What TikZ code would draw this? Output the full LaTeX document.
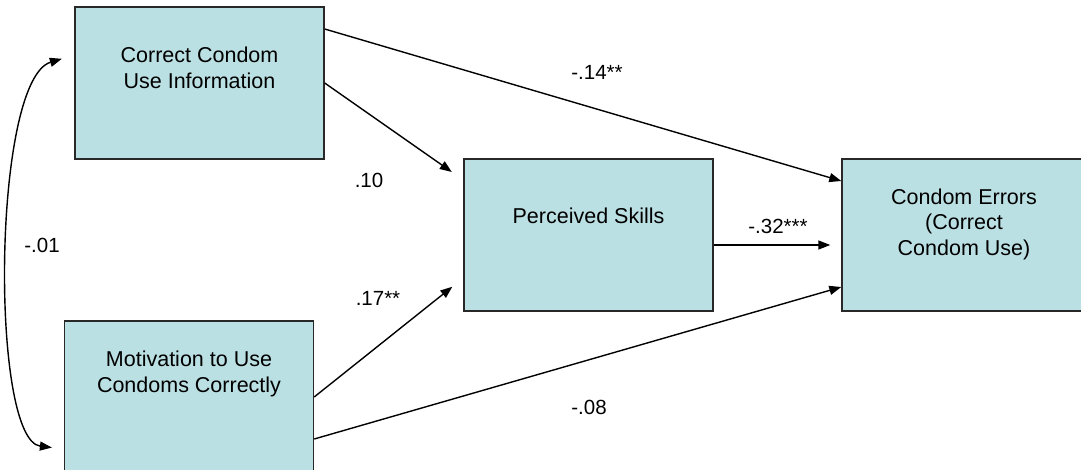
\documentclass[tikz,border=0pt]{standalone}
\usepackage{xcolor}
\usepackage{fontspec}
\setmainfont{Liberation Sans}
\definecolor{boxcyan}{RGB}{187, 224, 227}
\definecolor{boxedge}{RGB}{40, 40, 40}
\usetikzlibrary{arrows.meta, positioning, calc}

\begin{document}
\begin{tikzpicture}[
    x=1pt, y=-1pt,
    construct/.style={rectangle, draw=boxedge, line width=1.4pt, fill=boxcyan, minimum width=249pt, minimum height=152pt, inner sep=0pt},
    boxtext/.style={align=center, font=\fontsize{21.5}{25.5}\selectfont},
    coef/.style={font=\fontsize{20.5}{24}\selectfont, inner sep=0pt},
    path/.style={-{Triangle[length=12pt, width=9pt]}, line width=1.4pt},
    covar/.style={{Triangle[length=12pt, width=9pt]}-{Triangle[length=12pt, width=9pt]}, line width=1.4pt}
]
    \useasboundingbox (0,0) rectangle (1081,469);
    \clip (0,0) rectangle (1081,469);

    % Constructs
    \node[construct] (info) at (199.5,83) {};
    \node[construct] (motiv) at (189,397) {};
    \node[construct] (skills) at (588.5,235) {};
    \node[construct] (errors) at (966.5,235) {};

    \node[boxtext] (infotxt) at (199.5,68) {Correct Condom\\ Use Information};
    \node[boxtext] (motivtxt) at (189,374) {Motivation to Use\\Condoms Correctly};
    \node[boxtext] (skillstxt) at (588.5,216) {Perceived Skills};
    \node[boxtext] (errorstxt) at (964,224) {Condom Errors\\(Correct\\Condom Use)};

    % Paths
    \draw[path] ([yshift=54pt]info.east) -- ([yshift=54pt]errors.west);
    \draw[path, shorten >=14pt] (info.east) -- ([yshift=55pt]skills.west);
    \draw[path, shorten >=14pt] (motiv.east) -- ([yshift=-43pt]skills.west);
    \draw[path] ([yshift=-42pt]motiv.east) -- ([yshift=-52pt]errors.west);
    \draw[path, shorten >=11pt] ([yshift=-10pt]skills.east) -- ([yshift=-10pt]errors.west);

    % Covariance
    \draw[covar, shorten <=13pt, shorten >=12pt] ([yshift=28pt]info.west)
        .. controls (-8,80) and (-10,440) .. ([yshift=-52pt]motiv.west);

    % Coefficients
    \node[coef] (c1) at (597,72) {-.14**};
    \node[coef] (c2) at (369,180) {.10};
    \node[coef] (c3) at (378,298) {.17**};
    \node[coef] (c4) at (589,407) {-.08};
    \node[coef] (c5) at (778,226) {-.32***};
    \node[coef] (c6) at (42,245) {-.01};

\end{tikzpicture}
\end{document}
